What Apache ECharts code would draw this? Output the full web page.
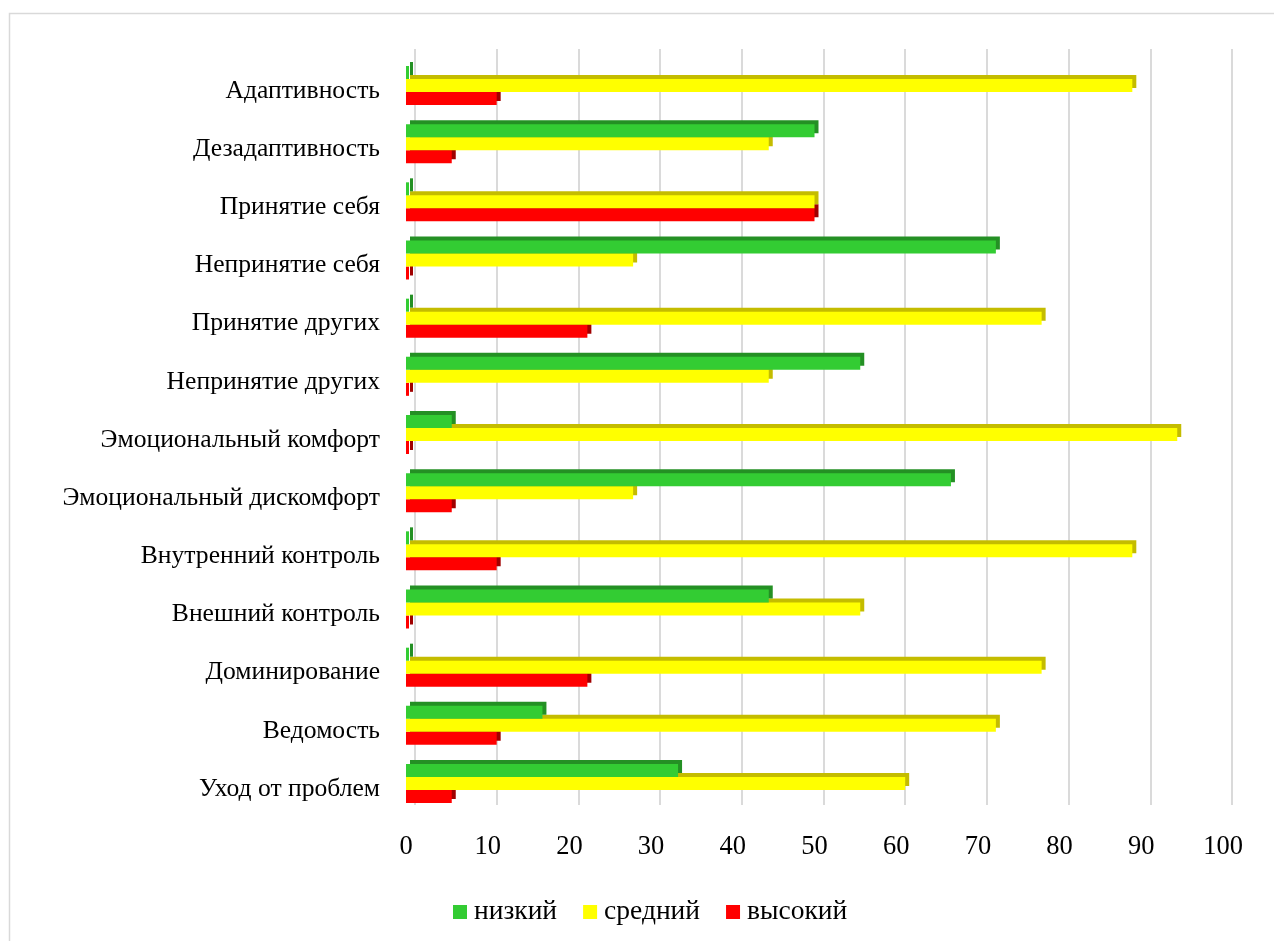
<!DOCTYPE html>
<html>
<head>
<meta charset="utf-8">
<script src="https://cdn.jsdelivr.net/npm/echarts@6/dist/echarts.min.js"></script>
<style>html,body{margin:0;padding:0;background:#fff}#c{width:1274px;height:941px}</style>
</head>
<body>
<div id="c"></div>
<script>
const categories = ['Адаптивность','Дезадаптивность','Принятие себя','Непринятие себя','Принятие других','Непринятие других','Эмоциональный комфорт','Эмоциональный дискомфорт','Внутренний контроль','Внешний контроль','Доминирование','Ведомость','Уход от проблем'];
const seriesNames = ['низкий','средний','высокий'];
const lowValues  = [0, 50, 0, 72.2, 0, 55.6, 5.6, 66.7, 0, 44.4, 0, 16.7, 33.3];
const midValues  = [88.9, 44.4, 50, 27.8, 77.8, 44.4, 94.4, 27.8, 88.9, 55.6, 77.8, 72.2, 61.1];
const highValues = [11.1, 5.6, 50, 0, 22.2, 0, 0, 5.6, 11.1, 0, 22.2, 11.1, 5.6];
const xTicks = [0,10,20,30,40,50,60,70,80,90,100];

const FONT = 'Liberation Serif';
const chart = echarts.init(document.getElementById('c'));

function barSeries(name, data, color, side, z) {
  return {
    name: name, type: 'bar', data: data, xAxisIndex: 0, yAxisIndex: 0,
    barWidth: 13, barGap: '0%', barMinHeight: 3, z: z,
    itemStyle: { color: color, shadowColor: side, shadowOffsetX: 4, shadowOffsetY: -4, shadowBlur: 0 },
    emphasis: { disabled: true }, animation: false
  };
}

chart.setOption({
  animation: false,
  graphic: [{ type: 'rect', left: 7, top: 11, shape: { x: 0, y: 0, width: 1400, height: 1100 }, style: { fill: 'none', stroke: '#d9d9d9', lineWidth: 1.5 }, silent: true, z: -10 }],
  grid: [
    { left: 406, right: 51, top: 56.4, bottom: 128.4 },
    { left: 415, right: 42, top: 49, bottom: 136 }
  ],
  legend: {
    data: seriesNames, left: 448, top: 893, icon: 'rect', itemWidth: 14, itemHeight: 14, itemGap: 26,
    textStyle: { fontFamily: FONT, fontSize: 27.5, color: '#000', padding: [0,0,0,2] }
  },
  xAxis: [
    { type: 'value', gridIndex: 0, min: 0, max: 100, interval: 10,
      axisLine: { show: false }, axisTick: { show: false }, splitLine: { show: false },
      axisLabel: { fontFamily: FONT, fontSize: 26.5, color: '#000', margin: 21,
        formatter: function (v) { return xTicks.indexOf(v) >= 0 ? String(v) : ''; } } },
    { type: 'value', gridIndex: 1, min: 0, max: 100, interval: 10,
      axisLine: { show: false }, axisTick: { show: false }, axisLabel: { show: false },
      splitLine: { show: true, lineStyle: { color: '#dadada', width: 2 } } }
  ],
  yAxis: [
    { type: 'category', gridIndex: 0, data: categories, inverse: true,
      axisLine: { show: false }, axisTick: { show: false },
      axisLabel: { color: '#000', margin: 26,
        formatter: function (v) { return '{t|' + v + '}'; },
        rich: { t: { fontFamily: FONT, fontSize: 25.6, color: '#000', padding: [11, 0, 0, 0] } } } },
    { type: 'category', gridIndex: 1, data: categories, show: false }
  ],
  series: [
    barSeries(seriesNames[0], lowValues, '#33cc33', '#249024', 5),
    barSeries(seriesNames[1], midValues, '#ffff00', '#c4bc00', 4),
    barSeries(seriesNames[2], highValues, '#ff0000', '#a00000', 3)
  ]
});
</script>
</body>
</html>
